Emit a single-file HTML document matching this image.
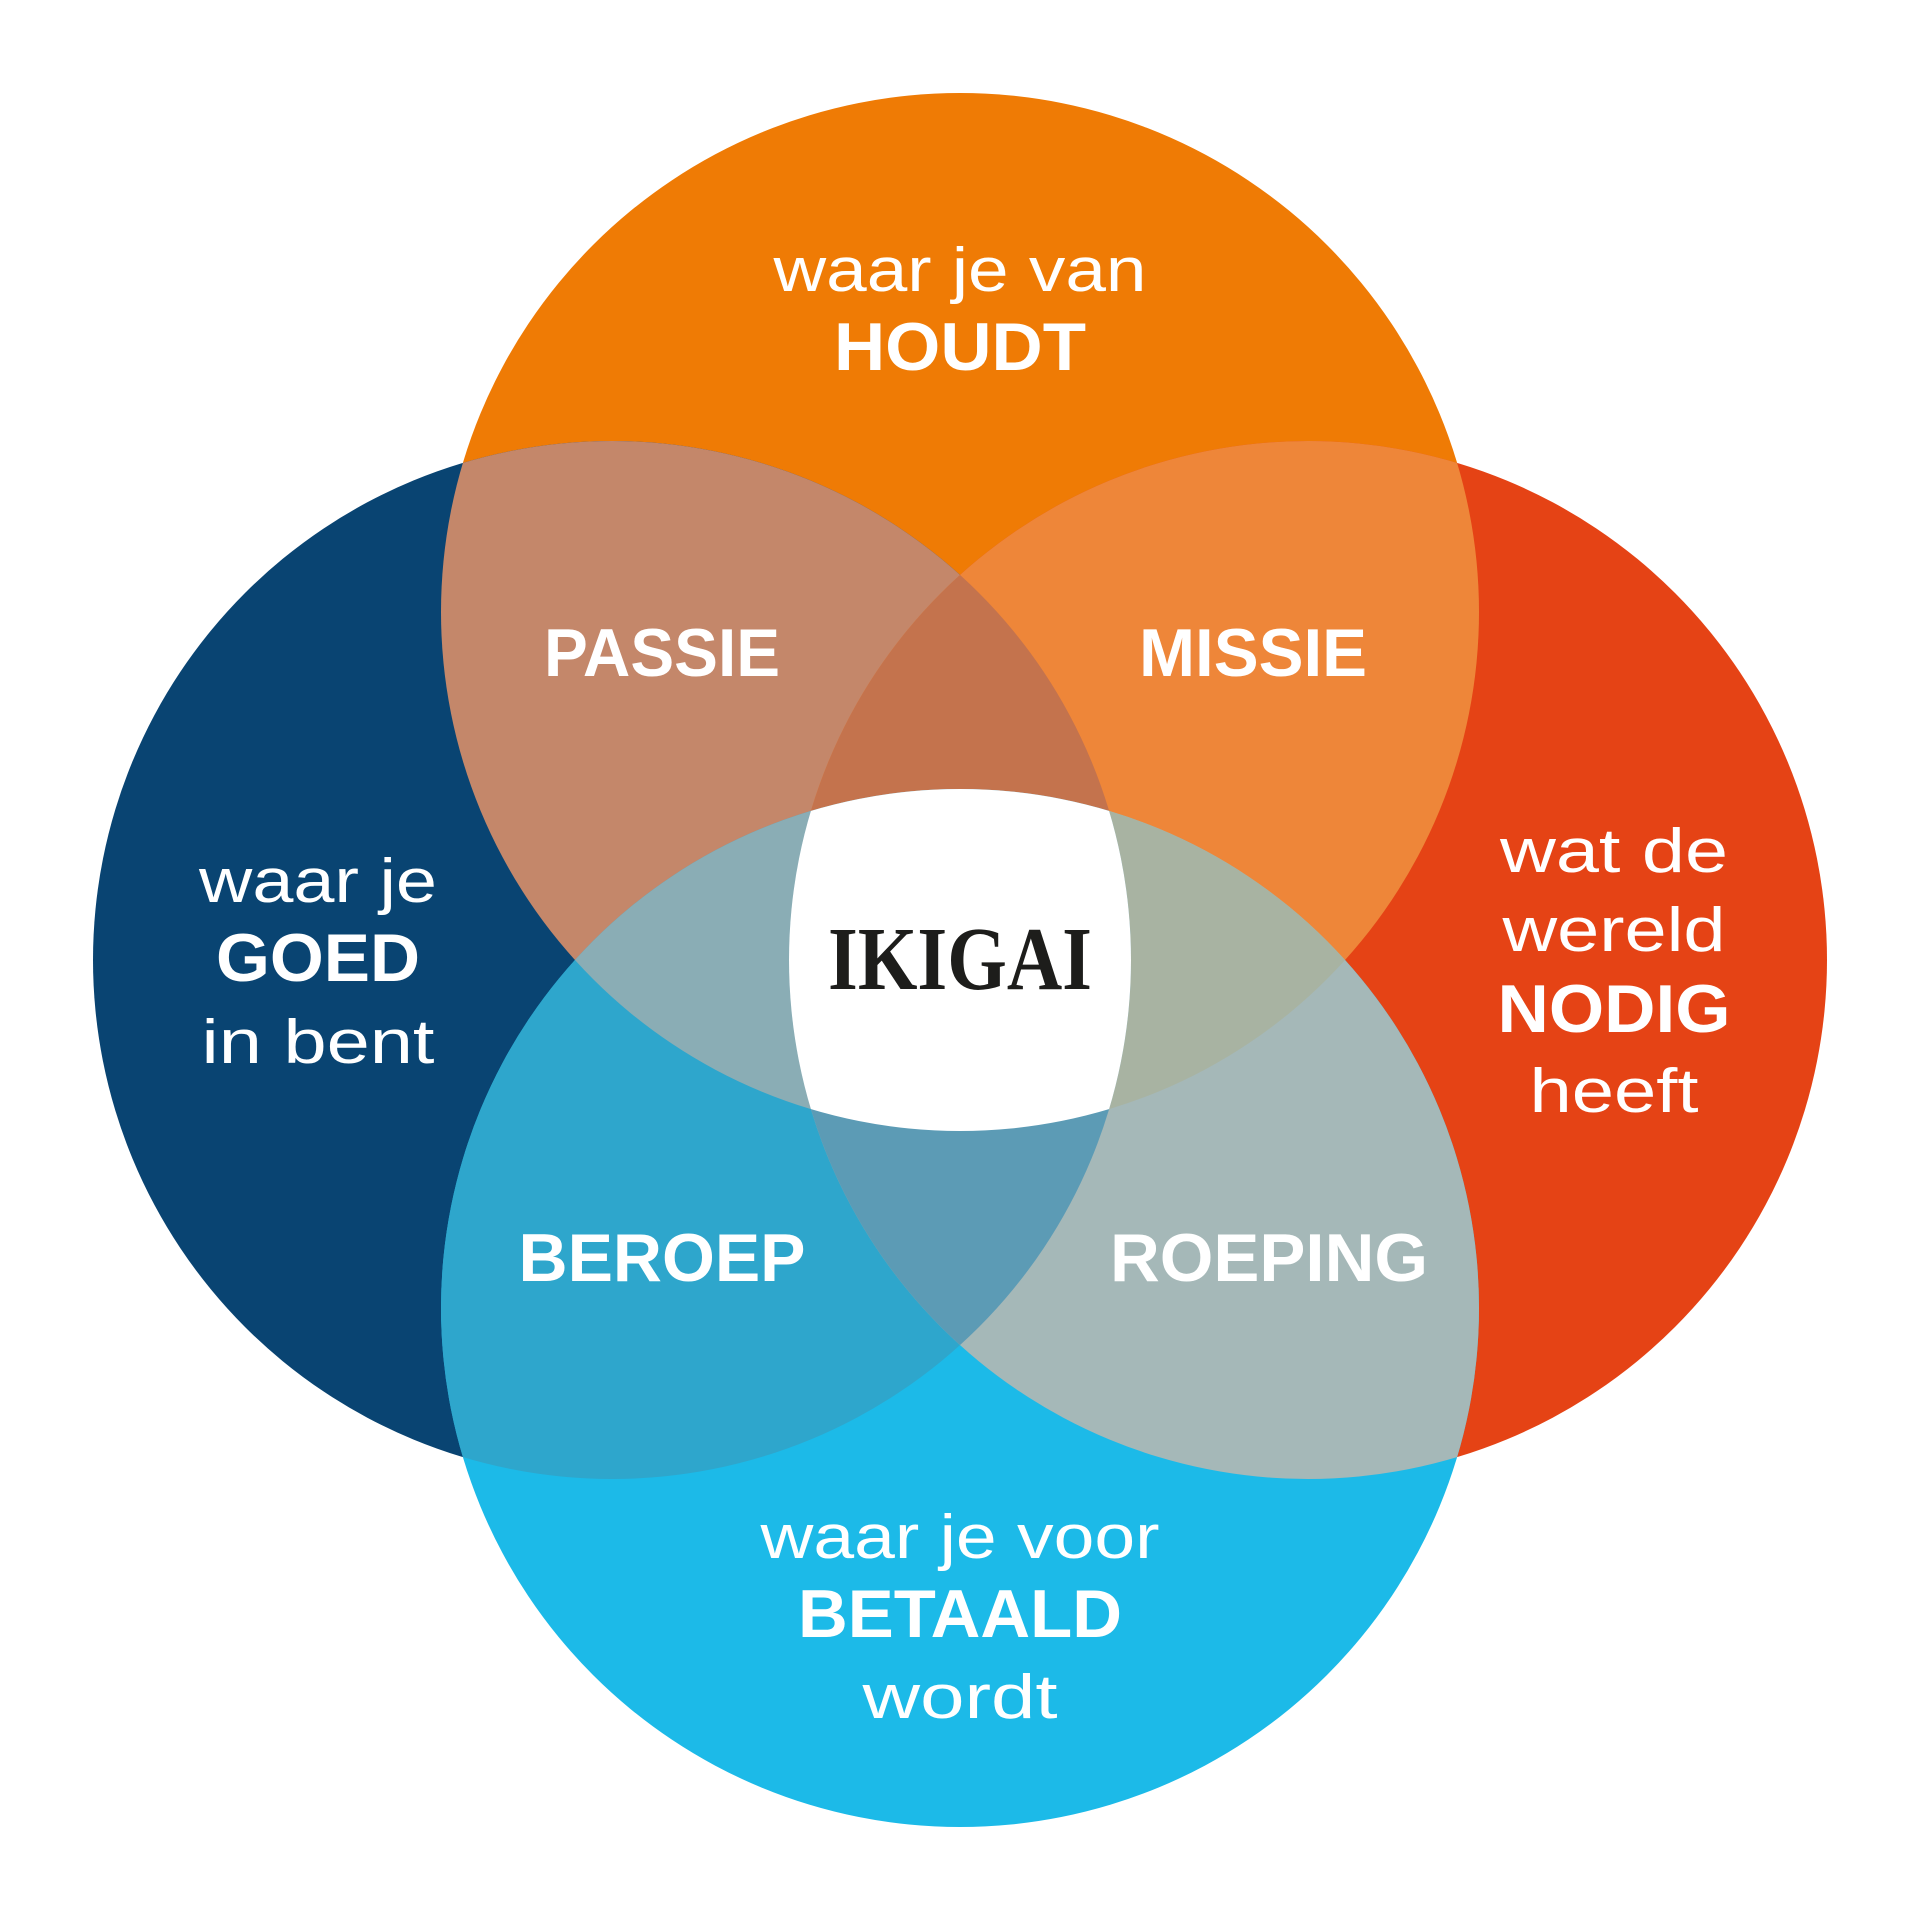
<!DOCTYPE html>
<html><head><meta charset="utf-8"><style>html,body{margin:0;padding:0;background:#fff}svg{display:block}</style></head>
<body>
<svg width="1920" height="1920" viewBox="0 0 1920 1920" xmlns="http://www.w3.org/2000/svg">
<defs>
<clipPath id="cT"><circle cx="960" cy="612" r="519"/></clipPath>
<clipPath id="cL"><circle cx="612" cy="960" r="519"/></clipPath>
<clipPath id="cR"><circle cx="1308" cy="960" r="519"/></clipPath>
<clipPath id="cB"><circle cx="960" cy="1308" r="519"/></clipPath>
</defs>
<circle cx="960" cy="612" r="519" fill="#EF7B05"/>
<circle cx="612" cy="960" r="519" fill="#094472"/>
<circle cx="1308" cy="960" r="519" fill="#E54315"/>
<circle cx="960" cy="1308" r="519" fill="#1CBAE8"/>
<g clip-path="url(#cT)"><circle cx="612" cy="960" r="519" fill="#C4876A"/><circle cx="1308" cy="960" r="519" fill="#EE8639"/></g>
<g clip-path="url(#cB)"><circle cx="612" cy="960" r="519" fill="#2EA6CC"/><circle cx="1308" cy="960" r="519" fill="#A5B8B8"/></g>
<g clip-path="url(#cT)"><g clip-path="url(#cL)"><circle cx="1308" cy="960" r="519" fill="#C4734D"/><circle cx="960" cy="1308" r="519" fill="#8AADB5"/></g></g>
<g clip-path="url(#cT)"><g clip-path="url(#cR)"><circle cx="960" cy="1308" r="519" fill="#A8B3A2"/></g></g>
<g clip-path="url(#cB)"><g clip-path="url(#cL)"><circle cx="1308" cy="960" r="519" fill="#5C9BB5"/></g></g>
<g clip-path="url(#cT)"><g clip-path="url(#cL)"><g clip-path="url(#cR)"><circle cx="960" cy="1308" r="519" fill="#fff"/></g></g></g>
<g fill="#fff" font-family="Liberation Sans, sans-serif" text-anchor="middle">
<text x="960" y="291" font-size="62" textLength="373" lengthAdjust="spacingAndGlyphs">waar je van</text>
<text x="960" y="370" font-size="68" font-weight="bold" textLength="252" lengthAdjust="spacingAndGlyphs">HOUDT</text>
<text x="318" y="902" font-size="62" textLength="238" lengthAdjust="spacingAndGlyphs">waar je</text>
<text x="318" y="981" font-size="68" font-weight="bold" textLength="204" lengthAdjust="spacingAndGlyphs">GOED</text>
<text x="318" y="1063" font-size="62" textLength="233" lengthAdjust="spacingAndGlyphs">in bent</text>
<text x="1614" y="872" font-size="62" textLength="228" lengthAdjust="spacingAndGlyphs">wat de</text>
<text x="1614" y="951" font-size="62" textLength="223" lengthAdjust="spacingAndGlyphs">wereld</text>
<text x="1614" y="1032" font-size="68" font-weight="bold" textLength="233" lengthAdjust="spacingAndGlyphs">NODIG</text>
<text x="1614" y="1112" font-size="62" textLength="169" lengthAdjust="spacingAndGlyphs">heeft</text>
<text x="960" y="1558" font-size="62" textLength="399" lengthAdjust="spacingAndGlyphs">waar je voor</text>
<text x="960" y="1637" font-size="68" font-weight="bold" textLength="324" lengthAdjust="spacingAndGlyphs">BETAALD</text>
<text x="960" y="1718" font-size="62" textLength="195" lengthAdjust="spacingAndGlyphs">wordt</text>
<text x="662" y="676" font-size="68" font-weight="bold" textLength="236" lengthAdjust="spacingAndGlyphs">PASSIE</text>
<text x="1253" y="676" font-size="68" font-weight="bold" textLength="228" lengthAdjust="spacingAndGlyphs">MISSIE</text>
<text x="662" y="1281" font-size="68" font-weight="bold" textLength="287" lengthAdjust="spacingAndGlyphs">BEROEP</text>
<text x="1269" y="1281" font-size="68" font-weight="bold" textLength="318" lengthAdjust="spacingAndGlyphs">ROEPING</text>
</g>
<text x="960" y="989" font-family="Liberation Serif, serif" font-weight="bold" font-size="90" fill="#1d1d1b" text-anchor="middle" textLength="264" lengthAdjust="spacingAndGlyphs">IKIGAI</text>
</svg>
</body></html>
